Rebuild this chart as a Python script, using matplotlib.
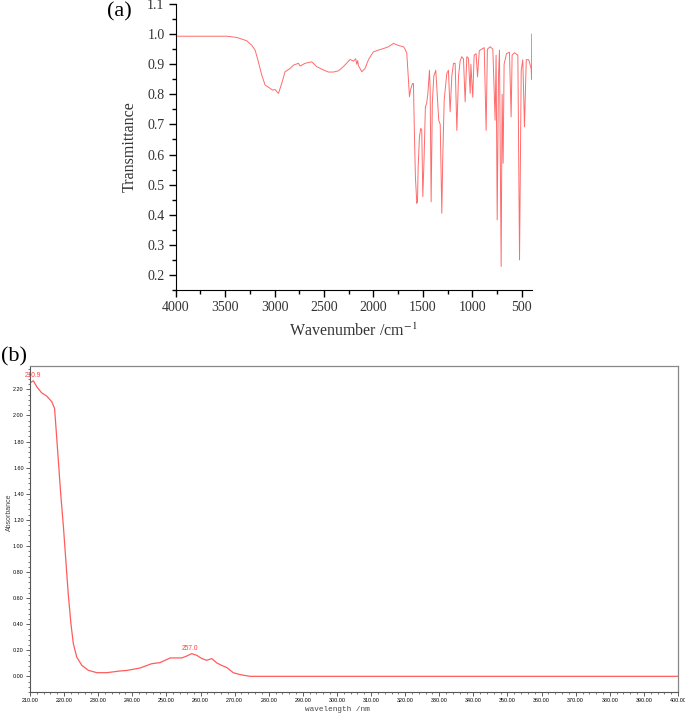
import numpy as np
import matplotlib
matplotlib.use("Agg")
import matplotlib.pyplot as plt
from matplotlib.ticker import MultipleLocator, FormatStrFormatter

# ---- (a) FT-IR spectrum ----
ir_wavenumber = [4000, 3990, 3700, 3484, 3383, 3282, 3231, 3197, 3164, 3130, 3096,
                 3046, 3020, 2995, 2975, 2961, 2928, 2894, 2843, 2810, 2759, 2742,
                 2692, 2624, 2574, 2506, 2456, 2405, 2354, 2304, 2236, 2203, 2180,
                 2169, 2160, 2152, 2118, 2085, 2051, 2001, 1950, 1899, 1849, 1798,
                 1747, 1697, 1680, 1663, 1636, 1625, 1606, 1596, 1586, 1576, 1562,
                 1555, 1548, 1535, 1522, 1512, 1501, 1488, 1475, 1462, 1450, 1434,
                 1427, 1417, 1405, 1390, 1370, 1355, 1340, 1325, 1309, 1300, 1285,
                 1259, 1242, 1225, 1208, 1191, 1174, 1157, 1140, 1124, 1107, 1090,
                 1073, 1056, 1040, 1022, 1015, 996, 982, 962, 948, 930, 920, 903,
                 880, 861, 848, 820, 793, 770, 760, 749, 736, 726, 709, 699, 689,
                 679, 655, 625, 608, 598, 575, 540, 523, 506, 490, 473, 455, 430,
                 405, 401, 400]
ir_transmittance = [0.993, 0.993, 0.993, 0.993, 0.989, 0.978, 0.963, 0.947, 0.908,
                    0.864, 0.831, 0.820, 0.814, 0.816, 0.808, 0.803, 0.836, 0.875,
                    0.886, 0.897, 0.903, 0.894, 0.903, 0.908, 0.892, 0.881, 0.874,
                    0.874, 0.878, 0.892, 0.916, 0.910, 0.918, 0.900, 0.912, 0.895,
                    0.875, 0.886, 0.915, 0.941, 0.947, 0.952, 0.958, 0.969, 0.962,
                    0.958, 0.950, 0.936, 0.792, 0.815, 0.836, 0.836, 0.670, 0.526,
                    0.438, 0.445, 0.560, 0.660, 0.687, 0.682, 0.460, 0.590, 0.759,
                    0.770, 0.803, 0.880, 0.820, 0.443, 0.770, 0.860, 0.880, 0.800,
                    0.714, 0.700, 0.405, 0.580, 0.780, 0.869, 0.880, 0.742, 0.860,
                    0.903, 0.903, 0.680, 0.860, 0.910, 0.925, 0.918, 0.775, 0.925,
                    0.920, 0.803, 0.900, 0.790, 0.930, 0.935, 0.858, 0.945, 0.947,
                    0.950, 0.955, 0.680, 0.950, 0.958, 0.950, 0.714, 0.930, 0.383,
                    0.860, 0.947, 0.228, 0.800, 0.571, 0.900, 0.935, 0.940, 0.725,
                    0.930, 0.938, 0.930, 0.250, 0.880, 0.915, 0.692, 0.915, 0.915,
                    0.885, 0.850, 1.000]

# ---- (b) UV-Vis spectrum ----
uv_wavelength = [210.0, 211.0, 212.0, 213.4, 214.9, 216.4, 217.2, 217.6, 218.3,
                 219.0, 219.8, 220.5, 221.2, 222.0, 222.7, 223.7, 225.2, 227.1,
                 229.6, 232.5, 236.4, 238.4, 242.3, 245.7, 248.1, 249.6, 251.1,
                 252.5, 254.5, 256.0, 257.4, 258.9, 260.4, 261.8, 263.3, 264.8,
                 266.2, 267.7, 269.6, 271.6, 274.5, 280.0, 400.0]
uv_absorbance = [2.250, 2.266, 2.220, 2.174, 2.149, 2.105, 2.054, 1.913, 1.658,
                 1.400, 1.146, 0.890, 0.635, 0.404, 0.251, 0.148, 0.084, 0.046,
                 0.028, 0.028, 0.041, 0.045, 0.064, 0.097, 0.105, 0.123, 0.141,
                 0.141, 0.141, 0.156, 0.174, 0.161, 0.136, 0.123, 0.136, 0.102,
                 0.084, 0.067, 0.028, 0.013, 0.000, 0.000, 0.000]
uv_peak_labels = [("210.9", 210.9, 2.266), ("257.0", 257.0, 0.174)]

plt.rcParams["mathtext.fontset"] = "stix"

fig = plt.figure(figsize=(6.85, 7.15), dpi=100)

# panel (a)
ax1 = fig.add_axes([0.2565, 0.5944, 0.5197, 0.4])
ax1.plot(ir_wavenumber, ir_transmittance, color="#ff6b6b", lw=0.7)
ax1.set_xlim(4000, 400)
ax1.set_ylim(0.15, 1.1)
ax1.spines["top"].set_visible(False)
ax1.spines["right"].set_visible(False)
ax1.xaxis.set_major_locator(MultipleLocator(500))
ax1.xaxis.set_minor_locator(MultipleLocator(250))
ax1.yaxis.set_major_locator(MultipleLocator(0.1))
ax1.yaxis.set_minor_locator(MultipleLocator(0.05))
ax1.yaxis.set_major_formatter(FormatStrFormatter("%.1f"))
ax1.tick_params(which="major", direction="out", length=5, width=1, labelsize=10,
                pad=3, labelcolor="#333333")
ax1.tick_params(which="minor", direction="out", length=3, width=1)
for lab in ax1.get_xticklabels() + ax1.get_yticklabels():
    lab.set_fontfamily("Liberation Serif")
ax1.set_ylim(0.15, 1.1)
ax1.set_ylabel("Transmittance", fontsize=11.5, family="Liberation Serif", color="#333333")
ax1.yaxis.set_label_coords(-0.106, 0.5)
ax1.set_xlabel(r"Wavenumber /cm$^{-1}$", fontsize=11.5, family="Liberation Serif",
               color="#333333")
ax1.xaxis.set_label_coords(0.498, -0.115)
fig.text(0.175, 0.983, "(a)", fontsize=16, family="Liberation Serif", ha="center",
         va="center")

# panel (b)
ax2 = fig.add_axes([0.0438, 0.0322, 0.946, 0.456])
ax2.plot(uv_wavelength, uv_absorbance, color="#ff5c5c", lw=0.9)
for txt, xv, yv in uv_peak_labels:
    ax2.annotate(txt, (xv, yv), xytext=(0, 1.5), textcoords="offset points",
                 ha="center", va="bottom", fontsize=4.8, color="#ff4040",
                 family="Liberation Sans")
ax2.set_xlim(210, 400)
ax2.set_ylim(-0.12, 2.38)
ax2.xaxis.set_major_locator(MultipleLocator(10))
ax2.xaxis.set_minor_locator(MultipleLocator(2))
ax2.yaxis.set_major_locator(MultipleLocator(0.2))
ax2.yaxis.set_minor_locator(MultipleLocator(0.04))
ax2.xaxis.set_major_formatter(FormatStrFormatter("%.2f"))
ax2.yaxis.set_major_formatter(FormatStrFormatter("%.2f"))
ax2.tick_params(which="major", direction="out", length=3, width=0.6, labelsize=3.9,
                pad=1.5, color="#444444")
ax2.tick_params(which="minor", direction="out", length=1.5, width=0.5, color="#444444")
for lab in ax2.get_xticklabels() + ax2.get_yticklabels():
    lab.set_fontfamily("Liberation Sans")
for side in ["left", "bottom"]:
    ax2.spines[side].set_color("#555555")
    ax2.spines[side].set_linewidth(0.8)
for side in ["top", "right"]:
    ax2.spines[side].set_color("#888888")
    ax2.spines[side].set_linewidth(0.9)
ax2.set_ylabel("Absorbance", fontsize=5, family="Liberation Sans", color="#444444")
ax2.yaxis.set_label_coords(-0.027, 0.55)
ax2.set_xlabel("wavelength /nm", fontsize=5.5, family="Liberation Mono", color="#444444")
ax2.xaxis.set_label_coords(0.475, -0.042)
fig.text(0.02, 0.501, "(b)", fontsize=16, family="Liberation Serif", ha="center",
         va="center")

fig.savefig("out.png", dpi=100)
